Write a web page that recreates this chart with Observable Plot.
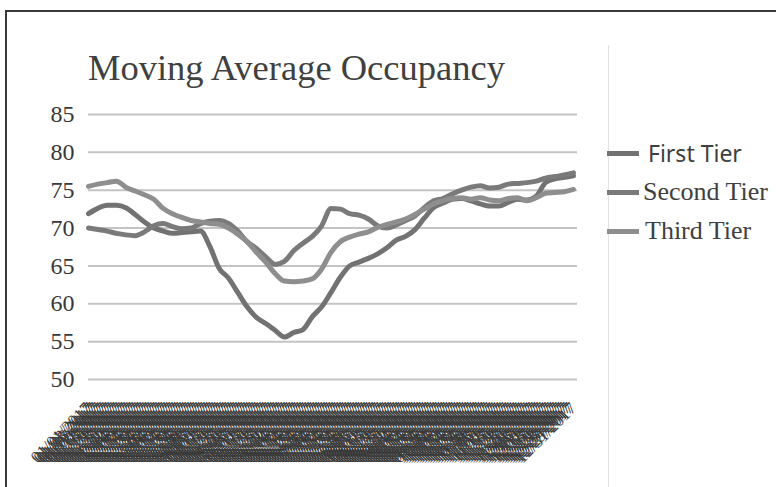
<!DOCTYPE html>
<html>
<head>
<meta charset="utf-8">
<script src="https://cdn.jsdelivr.net/npm/d3@7"></script>
<script src="https://cdn.jsdelivr.net/npm/@observablehq/plot@0.6"></script>
<style>
  html, body { margin: 0; padding: 0; background: #fff; }
  #wrap { position: relative; width: 776px; height: 487px; overflow: hidden; background: #fff; }
  #frame { position: absolute; left: 5px; top: 10px; width: 800px; height: 500px; border-left: 2px solid #3a3a3a; border-top: 2px solid #3a3a3a; }
  #sep { position: absolute; left: 608px; top: 45px; width: 1px; height: 460px; background: #e2e2e2; }
  #title { position: absolute; left: 88px; top: 50px; font: 36.5px/36px "Liberation Serif", serif; color: #404040; white-space: nowrap; }
  #chart { position: absolute; left: 0; top: 0; }
  .lg { position: absolute; white-space: nowrap; }
  .sw { position: absolute; width: 32px; height: 5px; }
</style>
</head>
<body>
<div id="wrap">
  <div id="frame"></div>
  <div id="sep"></div>
  <div id="chart"></div>
  <div id="title">Moving Average Occupancy</div>
  <div id="legend"></div>
</div>
<script>
// Series names and colours
const seriesNames = ["First Tier", "Second Tier", "Third Tier"];
const seriesColors = ["#727272", "#7a7a7a", "#8e8e8e"];

// Weekly moving-average values (53 weeks)
const firstTier = [71.9,72.6,73.0,73.0,72.7,71.8,70.8,70.0,69.6,69.3,69.4,69.5,69.6,67.6,64.7,63.4,61.5,59.6,58.2,57.4,56.5,55.6,56.2,56.6,58.3,59.6,61.5,63.5,65.0,65.5,66.0,66.6,67.4,68.4,68.9,69.8,71.3,72.7,73.3,73.8,73.9,73.6,73.2,72.9,72.9,73.4,73.8,73.7,74.2,76.0,76.5,76.7,76.9];
const secondTier = [70.0,69.8,69.6,69.3,69.1,69.0,69.5,70.3,70.6,70.2,69.9,70.0,70.6,70.9,71.0,70.6,69.6,68.2,67.3,66.2,65.2,65.6,67.0,68.0,68.9,70.3,72.6,72.5,71.9,71.7,71.2,70.3,70.0,70.4,71.0,71.6,72.7,73.6,73.9,74.5,75.0,75.4,75.6,75.3,75.4,75.8,75.9,76.0,76.2,76.6,76.8,77.0,77.3];
const thirdTier = [75.5,75.8,76.0,76.2,75.4,74.9,74.4,73.8,72.6,71.9,71.4,71.0,70.8,70.6,70.5,70.0,69.2,68.2,66.8,65.5,64.0,63.0,62.9,63.0,63.3,64.6,66.8,68.2,68.8,69.2,69.5,70.1,70.5,70.8,71.2,71.8,72.5,73.2,73.6,73.9,74.0,73.8,74.0,73.7,73.6,73.9,74.0,73.6,74.0,74.6,74.7,74.8,75.1];

// Axis tick values
const yTicks = [50, 55, 60, 65, 70, 75, 80, 85];
const startDate = new Date(Date.UTC(2017, 0, 1));
const endDate = new Date(Date.UTC(2017, 11, 31));
const dayTicks = d3.utcDay.range(startDate, d3.utcDay.offset(endDate, 1), 2);

const allSeries = [firstTier, secondTier, thirdTier];
const rows = [];
allSeries.forEach((vals, s) => {
  vals.forEach((v, k) => rows.push({series: seriesNames[s], date: d3.utcDay.offset(startDate, k * 7), value: v}));
});

const chart = Plot.plot({
  width: 776,
  height: 487,
  marginLeft: 88,
  marginRight: 199,
  marginTop: 114,
  marginBottom: 108,
  style: {background: "transparent", fontFamily: "'Liberation Serif', serif", overflow: "visible"},
  x: {type: "utc", domain: [startDate, d3.utcDay.offset(endDate, 3)]},
  y: {domain: [50, 85]},
  color: {domain: seriesNames, range: seriesColors},
  marks: [
    Plot.ruleY(yTicks, {stroke: "#c4c4c4", strokeWidth: 2}),
    Plot.axisY({ticks: yTicks, tickSize: 0, tickPadding: 14, fontSize: 24, fill: "#383838", label: null}),
    Plot.axisX({ticks: dayTicks, tickFormat: d3.utcFormat("%m/%d/%Y"), tickRotate: -45, tickSize: 0, tickPadding: 26, fontSize: 17, fill: "#3a3a3a", label: null}),
    Plot.line(rows, {x: "date", y: "value", z: "series", stroke: "series", strokeWidth: 5, curve: "monotone-x"})
  ]
});
document.getElementById("chart").appendChild(chart);

// Legend
const legend = document.getElementById("legend");
const lgPos = [
  {y: 153, tx: 648, font: '23px "Noto Sans", sans-serif'},
  {y: 192, tx: 643, font: '26px "Liberation Serif", serif'},
  {y: 231, tx: 645, font: '26px "Liberation Serif", serif'}
];
seriesNames.forEach((name, i) => {
  const sw = document.createElement("div");
  sw.className = "sw";
  sw.style.left = "607px";
  sw.style.top = (lgPos[i].y - 2.5) + "px";
  sw.style.background = seriesColors[i];
  legend.appendChild(sw);
  const t = document.createElement("div");
  t.className = "lg";
  t.textContent = name;
  t.style.left = lgPos[i].tx + "px";
  t.style.top = (lgPos[i].y - 16) + "px";
  t.style.font = lgPos[i].font;
  t.style.lineHeight = "32px";
  t.style.color = "#404040";
  legend.appendChild(t);
});
</script>
</body>
</html>
